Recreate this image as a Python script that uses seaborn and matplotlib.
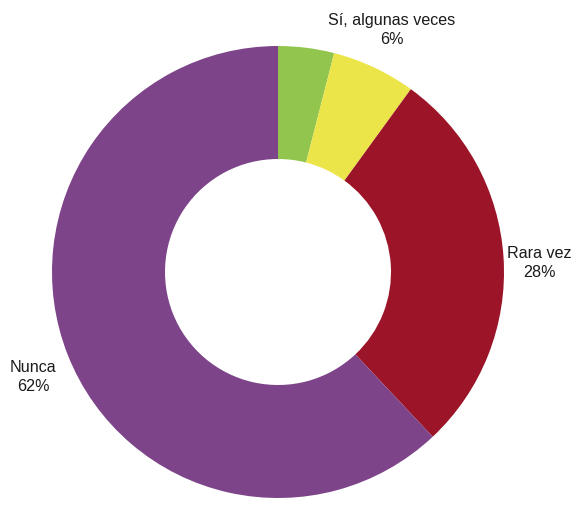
import matplotlib
matplotlib.use("Agg")
import matplotlib.pyplot as plt
import seaborn as sns

# Survey response shares (percent)
categories = ["", "Sí, algunas veces", "Rara vez", "Nunca"]
values = [4, 6, 28, 62]
colors = ["#92C54E", "#EBE54A", "#9B1427", "#7D4489"]

sns.set_theme(style="white")
plt.rcParams["font.family"] = ["Liberation Sans", "DejaVu Sans"]

fig = plt.figure(figsize=(5.74, 5.06), dpi=100)
ax = fig.add_axes([52 / 574, 7 / 506, 452 / 574, 452 / 506])

wedges, _ = ax.pie(
    values,
    colors=sns.color_palette(colors),
    startangle=90,
    counterclock=False,
    radius=1.0,
    wedgeprops=dict(width=0.5, edgecolor="none"),
)
ax.set_xlim(-1, 1)
ax.set_ylim(-1, 1)
ax.set_aspect("equal")
ax.axis("off")

# Category labels with their percentages
label_pos = {
    "Sí, algunas veces": (0.504, 1.075),
    "Rara vez": (1.158, 0.044),
    "Nunca": (-1.084, -0.46),
}
for name, val in zip(categories, values):
    if name in label_pos:
        x, y = label_pos[name]
        ax.text(x, y, f"{name}\n{val}%", ha="center", va="center",
                fontsize=11.6, color="#1a1a1a", linespacing=1.3,
                clip_on=False)

fig.savefig("out.png", dpi=100)
